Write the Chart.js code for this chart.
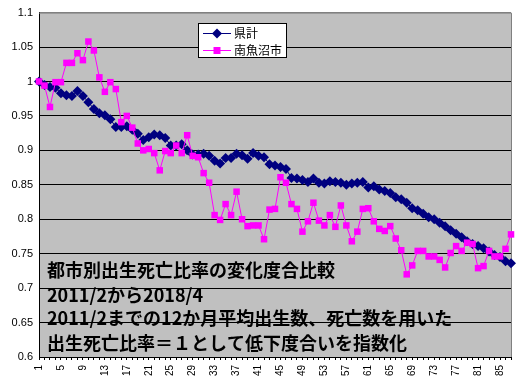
<!DOCTYPE html>
<html>
<head>
<meta charset="utf-8">
<script src="https://cdn.jsdelivr.net/npm/chart.js@4/dist/chart.umd.min.js"></script>
<style>
html,body{margin:0;padding:0;background:#fff;}
canvas{display:block;}
</style>
</head>
<body>
<canvas id="c" width="528" height="385"></canvas>
<script>
const categories = Array.from({length: 87}, (_, i) => String(i + 1));
const seriesNames = ["県計", "南魚沼市"];
const prefTotal = [
1.000,0.995,0.992,0.991,0.983,0.980,0.979,0.986,0.979,0.970,
0.960,0.954,0.951,0.945,0.934,0.934,0.935,0.930,0.924,0.915,
0.919,0.923,0.922,0.918,0.907,0.907,0.909,0.900,0.894,0.894,
0.895,0.892,0.885,0.881,0.889,0.889,0.895,0.893,0.888,0.896,
0.892,0.890,0.880,0.878,0.876,0.873,0.860,0.859,0.857,0.854,
0.859,0.853,0.852,0.855,0.854,0.853,0.850,0.852,0.853,0.854,
0.846,0.848,0.843,0.841,0.838,0.832,0.829,0.824,0.816,0.813,
0.808,0.803,0.800,0.795,0.790,0.784,0.779,0.774,0.768,0.764,
0.761,0.758,0.753,0.748,0.745,0.739,0.736];
const minamiuonuma = [
1.000,0.994,0.963,0.999,0.999,1.027,1.027,1.041,1.031,1.058,
1.045,1.006,0.985,0.999,0.989,0.941,0.950,0.933,0.910,0.900,
0.902,0.896,0.871,0.899,0.896,0.907,0.896,0.922,0.892,0.890,
0.867,0.853,0.806,0.799,0.822,0.806,0.840,0.800,0.790,0.791,
0.791,0.771,0.814,0.815,0.861,0.853,0.822,0.815,0.782,0.797,
0.824,0.798,0.791,0.806,0.789,0.820,0.791,0.768,0.782,0.815,
0.816,0.797,0.786,0.783,0.790,0.772,0.755,0.720,0.733,0.754,
0.754,0.746,0.746,0.741,0.730,0.751,0.761,0.754,0.766,0.764,
0.729,0.732,0.754,0.746,0.746,0.757,0.778];
const noteLines = [
"都市別出生死亡比率の変化度合比較",
"2011/2から2018/4",
"2011/2までの12か月平均出生数、死亡数を用いた",
"出生死亡比率＝１として低下度合いを指数化"
];
const yMin = 0.6, yMax = 1.1, yStep = 0.05;

const bgPlugin = {
  id: 'bg',
  beforeDraw(chart) {
    const {ctx, chartArea: a} = chart;
    ctx.save();
    ctx.fillStyle = '#fff';
    ctx.fillRect(0, 0, chart.width, chart.height);
    ctx.fillStyle = '#C0C0C0';
    ctx.fillRect(a.left, a.top, a.right - a.left, a.bottom - a.top);
    ctx.restore();
  },
  beforeDatasetsDraw(chart) {
    const {ctx, chartArea: a} = chart;
    ctx.save();
    ctx.strokeStyle = '#808080';
    ctx.lineWidth = 1;
    ctx.beginPath();
    ctx.moveTo(a.left, a.top + 0.5);
    ctx.lineTo(a.right + 0.5, a.top + 0.5);
    ctx.lineTo(a.right + 0.5, a.bottom);
    ctx.stroke();
    ctx.restore();
  },
  afterDraw(chart) {
    const ctx = chart.ctx;
    ctx.save();
    // note text
    ctx.fillStyle = '#000';
    ctx.font = 'bold 18px "Noto Sans CJK JP"';
    ctx.textBaseline = 'middle';
    ctx.textAlign = 'left';
    const ys = [270, 295.5, 318.5, 343];
    noteLines.forEach((t, i) => ctx.fillText(t, 47, ys[i]));
    // legend
    const lx = 198.5, ly = 23.5, lw = 88, lh = 34;
    ctx.fillStyle = '#fff';
    ctx.fillRect(lx, ly, lw, lh);
    ctx.strokeStyle = '#000';
    ctx.lineWidth = 1;
    ctx.strokeRect(lx, ly, lw, lh);
    const ds = chart.data.datasets;
    const rowY = [33.5, 50.5];
    ds.forEach((d, i) => {
      const y = rowY[i];
      ctx.strokeStyle = d.borderColor;
      ctx.lineWidth = 1;
      ctx.beginPath();
      ctx.moveTo(203, y);
      ctx.lineTo(231, y);
      ctx.stroke();
      ctx.fillStyle = d.backgroundColor;
      const cx = 217;
      ctx.beginPath();
      if (d.pointStyle === 'rectRot') {
        const r = 5;
        ctx.moveTo(cx, y - r); ctx.lineTo(cx + r, y); ctx.lineTo(cx, y + r); ctx.lineTo(cx - r, y);
        ctx.closePath();
      } else {
        ctx.rect(cx - 3.5, y - 3.5, 7, 7);
      }
      ctx.fill();
      ctx.fillStyle = '#000';
      ctx.font = '12px "Noto Sans CJK JP"';
      ctx.textBaseline = 'middle';
      ctx.fillText(d.label, 234, y);
    });
    ctx.restore();
  }
};

new Chart(document.getElementById('c'), {
  type: 'line',
  data: {
    labels: categories,
    datasets: [
      {
        label: seriesNames[0],
        data: prefTotal,
        borderColor: '#000080',
        backgroundColor: '#000080',
        borderWidth: 1,
        pointStyle: 'rectRot',
        pointRadius: 5,
        pointBorderWidth: 0,
        tension: 0,
        clip: false,
        order: 2
      },
      {
        label: seriesNames[1],
        data: minamiuonuma,
        borderColor: '#FF00FF',
        backgroundColor: '#FF00FF',
        borderWidth: 1,
        pointStyle: 'rect',
        pointRadius: 4.6,
        pointBorderWidth: 0,
        tension: 0,
        clip: false,
        order: 1
      }
    ]
  },
  options: {
    responsive: false,
    animation: false,
    events: [],
    layout: {padding: {left: 0, top: 12, right: 6, bottom: 0}},
    plugins: {legend: {display: false}, tooltip: {enabled: false}},
    scales: {
      x: {
        type: 'category',
        offset: false,
        afterFit(s) { s.height = 28; },
        grid: {display: true, drawOnChartArea: false, drawTicks: true, tickLength: 3, color: '#000'},
        border: {display: true, color: '#000', width: 1},
        ticks: {
          autoSkip: false,
          maxRotation: 90,
          minRotation: 90,
          padding: 5,
          color: '#000',
          font: {family: '"Liberation Sans", Arial', size: 10},
          callback(v, i) { return i % 4 === 0 ? categories[i] : ''; }
        }
      },
      y: {
        min: yMin,
        max: yMax,
        afterFit(s) { s.width = 39; },
        grid: {
          drawTicks: false,
          color(ctx) { return Math.abs(ctx.tick.value - yMax) < 1e-6 ? '#808080' : '#000'; },
          lineWidth: 1
        },
        border: {display: true, color: '#000', width: 1},
        ticks: {
          stepSize: yStep,
          padding: 6,
          color: '#000',
          font: {family: '"Liberation Sans", Arial', size: 11},
          callback(v) { return String(Number(v.toFixed(2))); }
        }
      }
    }
  },
  plugins: [bgPlugin]
});
</script>
</body>
</html>
